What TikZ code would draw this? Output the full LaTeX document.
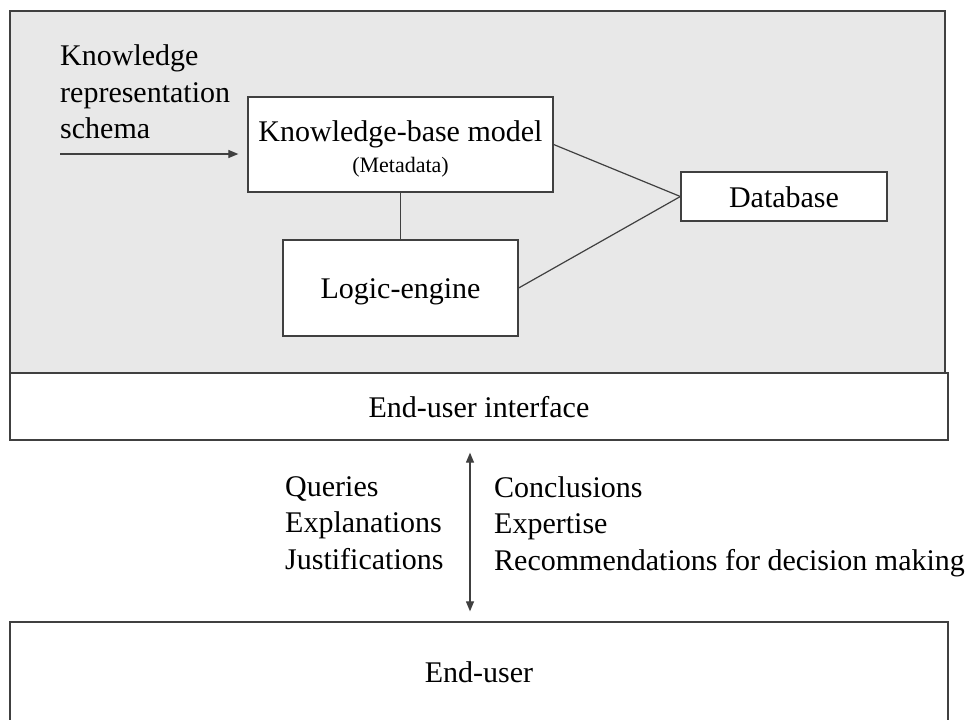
\documentclass[tikz,border=0pt]{standalone}
\usepackage{fontspec}
\setmainfont{Liberation Serif}
\usetikzlibrary{arrows.meta}
\begin{document}
\begin{tikzpicture}[x=1pt,y=-1pt,
  every node/.style={font=\fontsize{30}{36.5}\selectfont},
  frame/.style={draw=black!75, line width=1.3pt, fill=white, inner sep=0pt},
  box/.style={frame, text height=21pt, text depth=0pt},
  edge/.style={draw=black!75, line width=1.2pt},
  txt/.style={inner sep=0pt, align=left, anchor=north west},
  tipend/.style={-{Triangle[length=10pt,width=8pt]}},
  tipboth/.style={{Triangle[length=10pt,width=8pt]}-{Triangle[length=10pt,width=8pt]}}
]
\useasboundingbox (0,0) rectangle (970,720);

% shaded system panel and the two full-width bands
\node[frame, fill=black!9, minimum width=935pt, minimum height=362pt] (panel) at (477.5,192) {};
\node[box, minimum width=938pt, minimum height=67pt] (iface) at (479,406.5) {End-user interface};
\node[box, minimum width=938pt, minimum height=100pt] (user) at (479,672) {End-user};

% components inside the panel
\node[frame, align=center, minimum width=305pt, minimum height=95pt] (kb) at (400.5,144.5)
  {\rule{0pt}{29pt}Knowledge-base model\\[-5.5pt]{\fontsize{22}{26}\selectfont (Metadata)}};
\node[box, minimum width=235pt, minimum height=96pt] (logic) at (400.5,288) {Logic-engine};
\node[box, minimum width=206pt, minimum height=49pt] (db) at (784,196.5) {Database};

% input label and its arrow
\node[txt] (schema) at (60,44.5) {Knowledge\\representation\\schema};
\coordinate (ks) at (60,154);
\draw[edge, tipend, shorten >=9pt] (ks) -- (ks -| kb.west);

% connections between components
\draw[edge] (kb.south) -- (logic.north);
\draw[edge] (kb.east) -- (db.west);
\draw[edge] (logic.east) -- (db.west);

% exchange between interface and user
\coordinate (ax) at (470,0);
\draw[edge, tipboth, shorten <=12pt, shorten >=10pt] (ax |- iface.south) -- (ax |- user.north);
\node[txt] (toward) at (285,476) {Queries\\Explanations\\Justifications};
\node[txt] (back) at (494,476) {Conclusions\\Expertise\\Recommendations for decision making};
\end{tikzpicture}
\end{document}
